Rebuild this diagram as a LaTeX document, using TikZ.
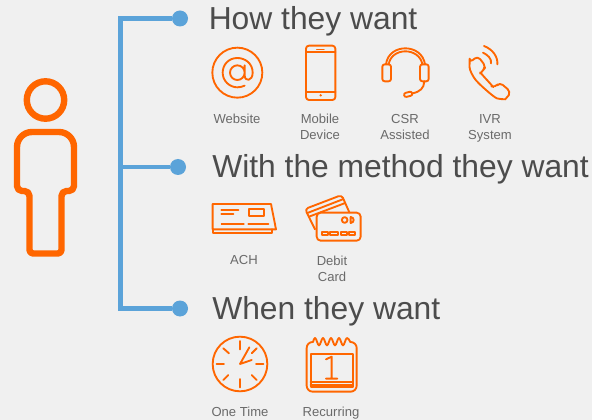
\documentclass[tikz,border=0pt]{standalone}
\usepackage{fontspec}
\setmainfont{Liberation Sans}
\definecolor{bgc}{HTML}{F0F0F0}
\definecolor{org}{HTML}{FF6600}
\definecolor{blu}{HTML}{5BA3D9}
\definecolor{txt}{HTML}{6A6A6A}
\tikzset{
  title/.style={anchor=base west,inner sep=0pt,text=black!70,font=\fontsize{23.85pt}{26pt}\selectfont},
  lab/.style={anchor=north,inner sep=0pt,align=center,text=txt,font=\fontsize{9.8pt}{12pt}\selectfont},
  dotn/.style={circle,fill=blu,inner sep=0pt,minimum size=12pt},
  ico/.style={draw=org,line width=1.4pt,line cap=round,line join=round},
  thin ico/.style={draw=org,line width=0.8pt,line cap=round,line join=round},
  fig/.style={draw=org,line width=4.8pt,line join=round},
  z/.style={shift={#1},x=0.25pt,y=-0.25pt}
}
\begin{document}
\begin{tikzpicture}[x=0.75pt,y=-0.75pt]
\useasboundingbox[fill=bgc] (0,0) rectangle (592,420);
% person
\draw[fig] (45.5,100) circle (18.7);
\draw[fig] (17,186) -- (17,147) arc[start angle=180,end angle=270,radius=15] -- (59,132)
  arc[start angle=270,end angle=360,radius=15] -- (74,186) arc[start angle=0,end angle=90,radius=5] -- (66.5,191)
  arc[start angle=270,end angle=180,radius=5] -- (61.5,250) arc[start angle=0,end angle=90,radius=3.5] -- (33,253.5)
  arc[start angle=90,end angle=180,radius=3.5] -- (29.5,196) arc[start angle=360,end angle=270,radius=5] -- (22,191)
  arc[start angle=90,end angle=180,radius=5] -- cycle;
% connectors
\node[dotn] (d1) at (180,18.5) {};
\node[dotn] (d2) at (178,167) {};
\node[dotn] (d3) at (180,308.5) {};
\coordinate (t) at (120.5,18.5);
\coordinate (m) at (120.5,167);
\coordinate (b) at (120.5,308.5);
\draw[blu,line width=3.4pt,line join=miter] (d1) -- (t) -- (b) -- (d3);
\draw[blu,line width=2.4pt] (m) -- (d2);
% titles
\node[title] (h1) at (208.5,30) {How they want};
\node[title] (h2) at (212,178) {With the method they want};
\node[title] (h3) at (212,319) {When they want};
% labels
\node[lab] (l1) at (237,114.2) {Website};
\node[lab] (l2) at (320,114.2) {Mobile\\Device};
\node[lab] (l3) at (405,114.2) {CSR\\Assisted};
\node[lab] (l4) at (490,114.2) {IVR\\System};
\node[lab] (l5) at (244,255.3) {ACH};
\node[lab] (l6) at (332,255.5) {Debit\\Card};
\node[lab] (l7) at (240,406.5) {One Time};
\node[lab] (l8) at (331,406.5) {Recurring};
% website
\begin{scope}[z={(200,40)}]
\draw[ico] (112,98) circle (75);
\draw[ico] (134,98) arc[start angle=0,end angle=360,radius=22]
  (134,76) -- (134,106) .. controls (134,126) and (158,124) .. (158,98)
  .. controls (158,70) and (135,54) .. (112,54) .. controls (86,54) and (68,74) .. (68,98)
  .. controls (68,124) and (90,142) .. (112,142) .. controls (120,142) and (127,140) .. (134,137);
% phone
\draw[ico,rounded corners=2.2pt] (318,17) rectangle (406,180);
\draw[ico] (318,36) -- (406,36) (318,155) -- (406,155);
\draw[thin ico] (350,28) -- (372,28);
\fill[org] (362,166) circle (4);
\end{scope}
% headset
\begin{scope}[z={(370,40)}]
\draw[ico,rounded corners=1.8pt] (37,73) rectangle (63,124);
\draw[ico,rounded corners=1.8pt] (150,73) rectangle (176,124);
\draw[ico] (48,73) .. controls (52,40) and (80,25) .. (106,25) .. controls (132,25) and (160,40) .. (165,73);
\draw[ico] (56,73) .. controls (60,48) and (82,34) .. (106,34) .. controls (130,34) and (153,48) .. (157,73);
\draw[ico] (163,124) .. controls (162,145) and (150,155) .. (128,160);
\draw[ico,rounded corners=1.5pt] (101,160) -- (125,154) -- (128,166) -- (104,172) -- cycle;
% handset
\draw[ico,rounded corners=3pt] (299,68) -- (323,48) -- (348,80) -- (338,92)
  .. controls (334,97) and (334,101) .. (338,106) -- (362,132) .. controls (367,138) and (372,141) .. (376,142)
  -- (389,127) -- (422,155) .. controls (414,170) and (404,178) .. (394,178)
  .. controls (375,174) and (350,152) .. (326,130) .. controls (310,112) and (298,90) .. (299,68) -- cycle;
\draw[ico] (342,18) .. controls (368,28) and (384,50) .. (382,73);
\draw[ico] (339,38) .. controls (352,44) and (366,56) .. (363,70);
\end{scope}
% ACH
\begin{scope}[z={(200,185)}]
\draw[ico] (38,133) -- (38,57) -- (213,57) -- (228,133) -- cycle;
\draw[ico] (38,133) -- (38,143) -- (215,143) -- (215,133);
\draw[ico] (147,73) rectangle (192,92);
\draw[ico] (64,75) -- (115,75) (64,88) -- (100,88) (145,117) -- (205,117);
\draw[thin ico,dash pattern=on 1pt off 0.5pt] (64,117) -- (132,117);
% card
\draw[ico,rounded corners=2.5pt] (345,133) -- (315,72) -- (425,30) -- (448,82);
\draw[ico] (322,84) -- (428,43) (327,95) -- (433,55);
\draw[ico,rounded corners=3pt] (350,83) rectangle (482,167);
\draw[ico] (434,105) circle (8.5);
\draw[ico] (452,96) .. controls (464,98) and (464,112) .. (452,114) -- cycle;
\draw[ico] (365,140) rectangle (383,150) (390,140) rectangle (415,150) (423,140) rectangle (440,150) (448,140) rectangle (465,150);
\end{scope}
% clock
\begin{scope}[z={(200,330)}]
\draw[ico] (120,102) circle (82);
\draw[ico] (120,33) -- (120,58) (120,147) -- (120,172) (168,102) -- (190,102) (50,102) -- (72,102)
  (70,55) -- (87,70) (170,55) -- (155,70) (70,150) -- (85,135) (170,150) -- (155,135);
\draw[ico] (148,52) -- (120,102) -- (155,90);
% calendar
\draw[ico,rounded corners=4.5pt] (339,36) -- (320,36) -- (320,185) -- (470,185) -- (470,36) -- (451,36);
\draw[ico] (339,36) sin (345,24) cos (351,35) sin (357,46) cos (363,35) sin (369,24) cos (375,35) sin (381,46) cos (387,35) sin (393,24) cos (399,35) sin (405,46) cos (411,35) sin (417,24) cos (423,35) sin (429,46) cos (435,35) sin (441,24) cos (451,36);
\draw[ico] (332,72) rectangle (458,172);
\draw[ico] (332,155) -- (458,155) (332,164) -- (458,164);
\draw[ico] (378,88) -- (395,80) -- (395,146) (378,146) -- (412,146);
\end{scope}
\end{tikzpicture}
\end{document}
